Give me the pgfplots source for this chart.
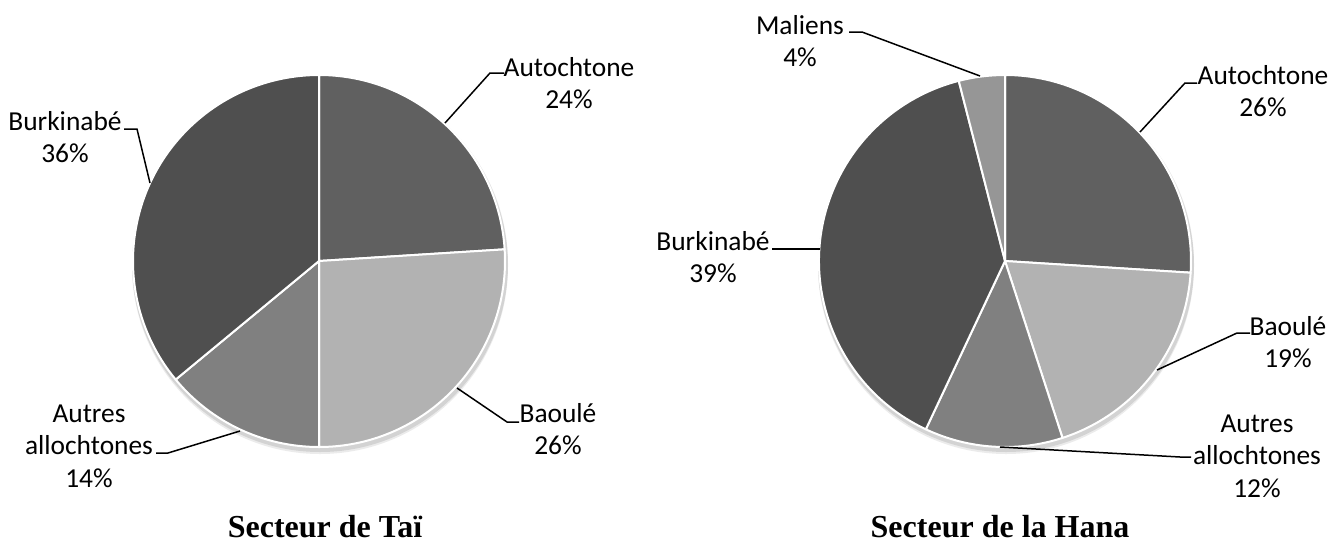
\documentclass[border=0pt]{standalone}
\usepackage{pgfplots}
\pgfplotsset{compat=1.18}
\usepackage{pgfplotstable}
\usepackage{fontspec}
\setmainfont{Carlito}
\newfontfamily\titlefont{Liberation Serif}
\definecolor{cAut}{HTML}{606060}
\definecolor{cBao}{HTML}{B2B2B2}
\definecolor{cAll}{HTML}{808080}
\definecolor{cBur}{HTML}{4F4F4F}
\definecolor{cMal}{HTML}{969696}
\tikzset{
  lbl/.style={font=\fontsize{13.7}{16.2}\selectfont, align=center, inner sep=0pt},
  ttl/.style={font=\titlefont\bfseries\fontsize{16}{18}\selectfont, inner sep=0pt, anchor=base},
  lead/.style={black, line width=0.75pt},
}

\pgfplotstableread{
name value col
Autochtone 24 cAut
Baoule 26 cBao
Autres 14 cAll
Burkinabe 36 cBur
}\taidata

\pgfplotstableread{
name value col
Autochtone 26 cAut
Baoule 19 cBao
Autres 12 cAll
Burkinabe 39 cBur
Maliens 4 cMal
}\hanadata

% #1 table, #2 cx, #3 cy (pixel coords), #4 radius in pt
\newcommand\drawpie[4]{%
  \edef\temp{\noexpand\fill[black,opacity=0.10] (axis cs:#2+1,#3+3) circle[radius=#4pt+1pt];}\temp
  \edef\temp{\noexpand\fill[black,opacity=0.08] (axis cs:#2+1,#3+5) circle[radius=#4pt+1pt];}\temp
  \pgfplotstablegetrowsof{#1}%
  \pgfmathtruncatemacro\pieN{\pgfplotsretval-1}%
  \gdef\piecum{90}%
  \foreach \i in {0,...,\pieN}{%
    \pgfplotstablegetelem{\i}{value}\of{#1}\let\pv\pgfplotsretval
    \pgfplotstablegetelem{\i}{col}\of{#1}\let\pc\pgfplotsretval
    \pgfmathsetmacro\pa{\piecum}%
    \pgfmathsetmacro\pb{\piecum-3.6*\pv}%
    \xdef\piecum{\pb}%
    \edef\temp{\noexpand\fill[fill=\pc,draw=white,line width=1pt,line join=round] (axis cs:#2,#3) -- ++(\pa:#4pt) arc[start angle=\pa,end angle=\pb,radius=#4pt] -- cycle;}%
    \temp
  }%
}

\begin{document}
\begin{tikzpicture}
\begin{axis}[
  x=0.5pt, y=0.5pt,
  xmin=0, xmax=1333, ymin=0, ymax=542,
  y dir=reverse,
  hide axis, clip=false,
]
\path (axis cs:0,0) rectangle (axis cs:1333,542);
\drawpie{\taidata}{319}{261}{93}
\drawpie{\hanadata}{1005}{261}{93}

% leader lines, pie 1
\draw[lead] (axis cs:124,129) -- (axis cs:137,129) -- (axis cs:150,183);
\draw[lead] (axis cs:504,73) -- (axis cs:490,73) -- (axis cs:445,123);
\draw[lead] (axis cs:519,422) -- (axis cs:507,422) -- (axis cs:457,388);
\draw[lead] (axis cs:156,453) -- (axis cs:168,453) -- (axis cs:240,431);
% leader lines, pie 2
\draw[lead] (axis cs:849,32) -- (axis cs:862,32) -- (axis cs:980,76);
\draw[lead] (axis cs:1197,83) -- (axis cs:1185,83) -- (axis cs:1140,132);
\draw[lead] (axis cs:772,249) -- (axis cs:820,249);
\draw[lead] (axis cs:1250,333) -- (axis cs:1237,333) -- (axis cs:1157,370);
\draw[lead] (axis cs:1191,457) -- (axis cs:1180,457) -- (axis cs:1000,447);

% labels pie 1
\node[lbl] at (axis cs:65,137) {Burkinabé\\36\%};
\node[lbl] at (axis cs:569,83) {Autochtone\\24\%};
\node[lbl] at (axis cs:558,429) {Baoulé\\26\%};
\node[lbl] at (axis cs:89,446) {Autres\\allochtones\\14\%};
% labels pie 2
\node[lbl] at (axis cs:800,41) {Maliens\\4\%};
\node[lbl] at (axis cs:1263,91) {Autochtone\\26\%};
\node[lbl] at (axis cs:713,257) {Burkinabé\\39\%};
\node[lbl] at (axis cs:1288,342) {Baoulé\\19\%};
\node[lbl] at (axis cs:1257,456) {Autres\\allochtones\\12\%};

% titles
\node[ttl] at (axis cs:325,537) {Secteur de Taï};
\node[ttl] at (axis cs:1000,537) {Secteur de la Hana};
\end{axis}
\end{tikzpicture}
\end{document}
